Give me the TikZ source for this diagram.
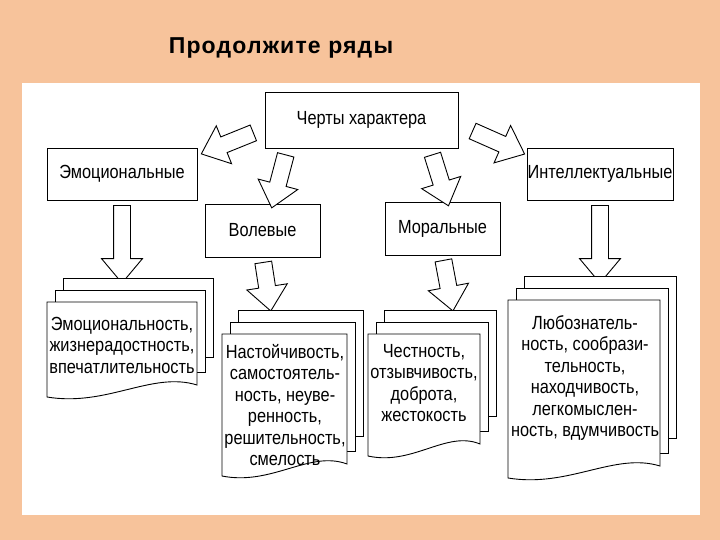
\documentclass[tikz,border=0pt]{standalone}
\usepackage{fontspec}
\setmainfont{Liberation Sans}
\newfontfamily\narrowf[FakeStretch=0.86]{Liberation Sans}
\newfontfamily\titlef[LetterSpace=5]{Liberation Sans}
\usetikzlibrary{shapes.arrows,calc}
\definecolor{bgor}{HTML}{F7C39B}
\tikzset{
  lbl/.style={draw, line width=0.9pt, fill=white, inner sep=0pt, font=\narrowf\fontsize{19}{22}\selectfont},
  dtext/.style={align=center, font=\narrowf\fontsize{19}{21.5}\selectfont, inner sep=0pt},
  layer/.style={draw, line width=0.9pt, fill=white},
  barrow/.style={single arrow, draw, line width=0.9pt, fill=white, inner xsep=0pt, inner ysep=8pt,
    single arrow head extend=12pt, single arrow tip angle=80}
}
\newcommand\mydocs[4]{% a, b, w, h
  \draw[layer] (#1+16,#2-24) rectangle (#1+#3+16,#2+#4-40);
  \draw[layer] (#1+8,#2-12) rectangle (#1+#3+8,#2+#4-25);
  \draw[layer] (#1,#2) -- (#1+#3,#2) -- (#1+#3,#2+#4-12)
    .. controls (#1+0.7*#3,#2+#4-26) and (#1+0.4*#3,#2+#4+10) .. (#1,#2+#4) -- cycle;
}
\newcommand\blockarrow[2]{%
  \path let \p1=(#1), \p2=(#2), \n1={atan2(\y2-\y1,\x2-\x1)}, \n2={veclen(\x2-\x1,\y2-\y1)} in
    node[barrow, minimum height=\n2, rotate=\n1] at ($(#1)!0.5!(#2)$) {};
}
\begin{document}
\begin{tikzpicture}[x=1pt,y=-1pt]
\fill[bgor] (0,0) rectangle (720,540);
\fill[white] (22,83) rectangle (700,515);
\node[font=\titlef\bfseries\fontsize{23}{26}\selectfont] (title) at (281,48) {Продолжите ряды};

\node[lbl, minimum width=193pt, minimum height=56pt] (ch) at (361.5,120) {Черты характера};
\node[lbl, minimum width=150pt, minimum height=52pt] (em) at (122,174) {Эмоциональные};
\node[lbl, minimum width=115pt, minimum height=53pt] (vo) at (262.5,230.5) {Волевые};
\node[lbl, minimum width=115pt, minimum height=53pt] (mo) at (442.5,228.5) {Моральные};
\node[lbl, minimum width=146pt, minimum height=52pt] (in) at (600,174) {Интеллектуальные};

\coordinate (s1) at (258,131); \coordinate (e1) at (206,152);
\coordinate (s2) at (287,150); \coordinate (e2) at (273,203);
\coordinate (s3) at (431,150); \coordinate (e3) at (447,201);
\coordinate (s4) at (468,129); \coordinate (e4) at (520,152);
\blockarrow{s1}{e1}
\blockarrow{s2}{e2}
\blockarrow{s3}{e3}
\blockarrow{s4}{e4}

\coordinate (d1) at (122,278); \coordinate (d2) at (270,306);
\coordinate (d3) at (452,306); \coordinate (d4) at (600,278);
\blockarrow{em.south}{d1}
\blockarrow{vo.south}{d2}
\blockarrow{mo.south}{d3}
\blockarrow{in.south}{d4}

\mydocs{47}{302}{150}{95}
\mydocs{222}{334}{125}{142}
\mydocs{368}{334}{112}{122}
\mydocs{508}{300}{152}{178}

\node[dtext] (t1) at (122,345) {Эмоциональность,\\жизнерадостность,\\впечатлительность};
\node[dtext] (t2) at (285,405) {Настойчивость,\\самостоятель-\\ность, неуве-\\ренность,\\решительность,\\смелость};
\node[dtext] (t3) at (424,383) {Честность,\\отзывчивость,\\доброта,\\жестокость};
\node[dtext] (t4) at (585,378) {Любознатель-\\ность, сообрази-\\тельность,\\находчивость,\\легкомыслен-\\ность, вдумчивость};
\end{tikzpicture}
\end{document}
